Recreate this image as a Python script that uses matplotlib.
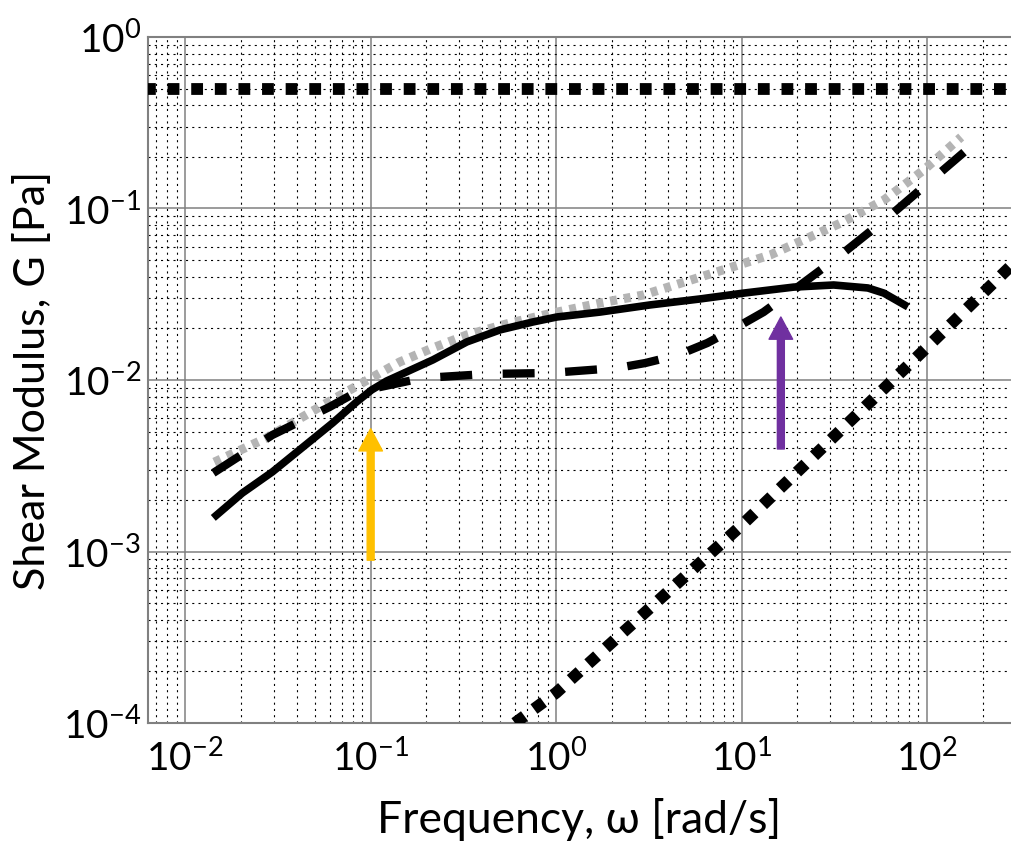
import numpy as np
import matplotlib
matplotlib.use("Agg")
import matplotlib.pyplot as plt

plt.rcParams['font.family'] = ['Lato', 'DejaVu Sans']
plt.rcParams['mathtext.fontset'] = 'custom'
plt.rcParams['mathtext.rm'] = 'Lato'
plt.rcParams['lines.scale_dashes'] = False

# data
w_gray = [0.01435, 0.0274, 0.0578, 0.1025, 0.1435, 0.2163, 0.330, 0.564, 0.964, 1.73, 2.95,
          7.06, 14.3, 34.3, 58.6, 96.4, 153]
G_gray = [3.32e-3, 4.59e-3, 7.34e-3, 1.04e-2, 1.274e-2, 1.538e-2, 1.83e-2, 2.15e-2, 2.46e-2,
          2.81e-2, 3.13e-2, 4.21e-2, 5.36e-2, 8.23e-2, 0.112, 0.168, 0.261]

w_solid = [0.01417, 0.0203, 0.0295, 0.0413, 0.0623, 0.084, 0.1012, 0.122, 0.1435, 0.2163, 0.330,
           0.498, 0.751, 1.01, 1.73, 3.22, 6.0, 10.25, 19.1, 31.4, 48.0, 58.6, 78.9]
G_solid = [1.57e-3, 2.19e-3, 2.91e-3, 3.91e-3, 5.61e-3, 7.45e-3, 8.75e-3, 9.87e-3, 1.069e-2,
           1.309e-2, 1.667e-2, 1.959e-2, 2.18e-2, 2.33e-2, 2.49e-2, 2.74e-2, 2.97e-2, 3.21e-2,
           3.48e-2, 3.58e-2, 3.44e-2, 3.21e-2, 2.67e-2]

w_dash = [0.01417, 0.0295, 0.060, 0.084, 0.1267, 0.191, 0.424, 0.929, 2.14, 3.03, 4.56, 6.54,
          9.28, 13.15, 20.8, 34.3, 63.8, 158.5]
G_dash = [2.87e-3, 4.78e-3, 6.96e-3, 8.51e-3, 9.35e-3, 1.027e-2, 1.084e-2, 1.099e-2, 1.175e-2,
          1.256e-2, 1.40e-2, 1.643e-2, 2.01e-2, 2.49e-2, 3.58e-2, 5.36e-2, 9.16e-2, 0.213]

w_diam = [0.6, 1.0, 10.0, 100.0, 300.0]
G_diam = [1.0e-4, 1.5e-4, 1.42e-3, 1.55e-2, 4.9e-2]

w_flat = [0.006, 300.0]
G_flat = [0.5, 0.5]

# arrows: (omega, tail G, tip G)
arrow_orange = (0.1, 8.9e-4, 5.2e-3)
arrow_purple = (16.3, 3.96e-3, 2.33e-2)

fig = plt.figure(figsize=(10.11, 8.5), dpi=100)
ax = fig.add_axes([0.1464, 0.1494, 0.8536, 0.8071])
ax.set_xscale('log')
ax.set_yscale('log')
ax.set_xlim(0.0063, 284)
ax.set_ylim(1e-4, 1)

# grid
ax.grid(True, which='major', color='#808080', lw=1.1, ls='-', zorder=0)
ax.grid(True, which='minor', color='black', lw=0.8, ls=(0, (1.5, 3)), zorder=0)
ax.tick_params(which='both', length=0)
ax.tick_params(axis='x', labelsize=28, pad=12)
ax.tick_params(axis='y', labelsize=28, pad=5)
for s in ['top', 'left', 'bottom']:
    ax.spines[s].set_color('#808080')
    ax.spines[s].set_linewidth(1.5)
ax.spines['right'].set_visible(False)

ax.set_xticks([1e-2, 1e-1, 1e0, 1e1, 1e2])
ax.set_xticklabels([r'$\mathregular{10^{%d}}$' % e for e in [-2, -1, 0, 1, 2]])
ax.set_yticks([1e-4, 1e-3, 1e-2, 1e-1, 1e0])
ax.set_yticklabels([r'$\mathregular{10^{%d}}$' % e for e in [-4, -3, -2, -1, 0]])

# curves
ax.plot(w_gray, G_gray, color='#b4b4b4', lw=6.5, dashes=(5, 5), solid_capstyle='butt',
        dash_capstyle='butt', zorder=3)
ax.plot(w_solid, G_solid, color='black', lw=5.5, solid_capstyle='butt',
        solid_joinstyle='round', zorder=4)
ax.plot(w_dash, G_dash, color='black', lw=6, dashes=(23, 22), dash_capstyle='butt', zorder=5)
ax.plot(w_diam, G_diam, color='black', lw=8.5, dashes=(8.5, 8.5), dash_capstyle='butt', zorder=5)
ax.plot(w_flat, G_flat, color='black', lw=8.5, dashes=(8.5, 8.5), dash_capstyle='butt', zorder=5)

# arrows
for (w, g0, g1), c in [(arrow_orange, '#FFC000'), (arrow_purple, '#7030A0')]:
    ax.annotate('', xy=(w, g1), xytext=(w, g0),
                arrowprops=dict(color=c, width=5, headwidth=17, headlength=16, shrink=0),
                zorder=6)

ax.set_xlabel('Frequency, ω [rad/s]', fontsize=32, labelpad=14)
ax.set_ylabel('Shear Modulus, G [Pa]', fontsize=31, labelpad=8)

fig.savefig('out.png', dpi=100)
